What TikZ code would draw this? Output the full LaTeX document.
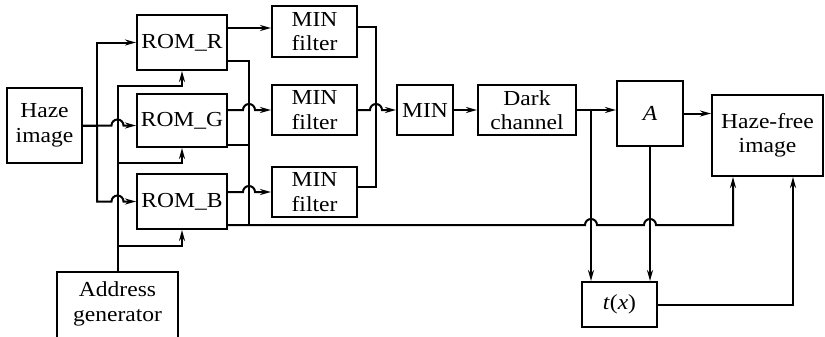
\documentclass[tikz,border=0pt]{standalone}
\usepackage{fontspec}
\setmainfont{Liberation Serif}[FakeStretch=1.1]
\usetikzlibrary{arrows.meta}

\tikzset{
  blk/.style={draw, line width=1pt, align=center, inner sep=0pt,
    font=\fontsize{10.7pt}{12.2pt}\selectfont},
  conn/.style={line width=1pt, -{Stealth[length=5.5pt,width=3pt]}},
  wire/.style={line width=1pt},
}

\begin{document}
\begin{tikzpicture}[x=0.5pt,y=-0.5pt]
\useasboundingbox (0,0) rectangle (825,337);

% blocks
\node[blk, minimum width=37.5pt, minimum height=37.5pt] (haze) at (44.5,125.5) {Haze\\image};
\node[blk, minimum width=45pt, minimum height=27.5pt] (romR) at (182,42.5) {ROM\_R};
\node[blk, minimum width=45pt, minimum height=26.5pt] (romG) at (182,120.5) {ROM\_G};
\node[blk, minimum width=45pt, minimum height=27.5pt] (romB) at (182,201.5) {ROM\_B};
\node[blk, minimum width=60.5pt, minimum height=40pt, anchor=north,
  label={[font=\fontsize{10.7pt}{12.2pt}\selectfont, align=center, yshift=4pt]center:Address\\generator}]
  (addr) at (117.5,271) {};

\node[blk, minimum width=42.5pt, minimum height=25.5pt] (minf1) at (314.5,31.5) {MIN\\filter};
\node[blk, minimum width=42.5pt, minimum height=25pt] (minf2) at (314.5,110) {MIN\\filter};
\node[blk, minimum width=42.5pt, minimum height=25pt] (minf3) at (314.5,192) {MIN\\filter};
\node[blk, minimum width=28pt, minimum height=25pt] (min) at (425,110) {MIN};
\node[blk, minimum width=49pt, minimum height=25pt] (dark) at (527,110) {Dark\\channel};
\node[blk, minimum width=33pt, minimum height=32.5pt] (A) at (650,113.5) {\textit{A}};
\node[blk, minimum width=55.5pt, minimum height=40.5pt] (hazefree) at (767.5,135.5) {Haze-free\\image};
\node[blk, minimum width=37.5pt, minimum height=22.5pt] (tx) at (619.5,304.5) {\textit{t}(\textit{x})};

% haze image to ROMs
\draw[conn] (haze.east) -- (97,125.5) |- (romR.west);
\draw[conn] (haze.east) -- (111.5,125.5) arc[start angle=180,end angle=0,radius=3pt] -- (romG.west |- haze.east);
\draw[conn] (97,125.5) |- (111.5,201.5) arc[start angle=180,end angle=0,radius=3pt] -- (romB.west);

% address generator
\draw[conn] (addr.north) |- (182,86) -- (romR.south);
\draw[conn] (117.5,163) -| (romG.south);
\draw[conn] (117.5,246) -| (romB.south);

% ROM outputs
\draw[conn] (romR.east |- 0,28) -- (minf1.west |- 0,28);
\draw[wire] (romR.east |- 0,61) -| (249,225);
\draw[wire] (romG.east |- 0,145) -- (249,145);
\draw[conn] (romG.east |- 0,110) -- (243,110) arc[start angle=180,end angle=0,radius=3pt] -- (minf2.west);
\draw[conn] (romB.east |- 0,192) -- (243,192) arc[start angle=180,end angle=0,radius=3pt] -- (minf3.west);
\draw[conn] (romB.east |- 0,225) -- (585,225) arc[start angle=180,end angle=0,radius=3pt]
  -- (644,225) arc[start angle=180,end angle=0,radius=3pt] -- (733,225) -- (hazefree.south -| 733,0);

% MIN filters to MIN
\draw[wire] (minf1.east |- 0,27) -| (376,187) -- (minf3.east |- 0,187);
\draw[conn] (minf2.east) -- (370,110) arc[start angle=180,end angle=0,radius=3pt] -- (min.west);
\draw[conn] (min.east) -- (dark.west);

% dark channel, A, t(x)
\draw[conn] (dark.east) -- (A.west |- dark.east);
\draw[conn] (dark.east -| 591,0) -- (tx.north -| 591,0);
\draw[conn] (A.south) -- (A.south |- tx.north);
\draw[conn] (A.east) -- (A.east -| hazefree.west);
\draw[conn] (tx.east) -| (hazefree.south -| 793,0);

\end{tikzpicture}
\end{document}
